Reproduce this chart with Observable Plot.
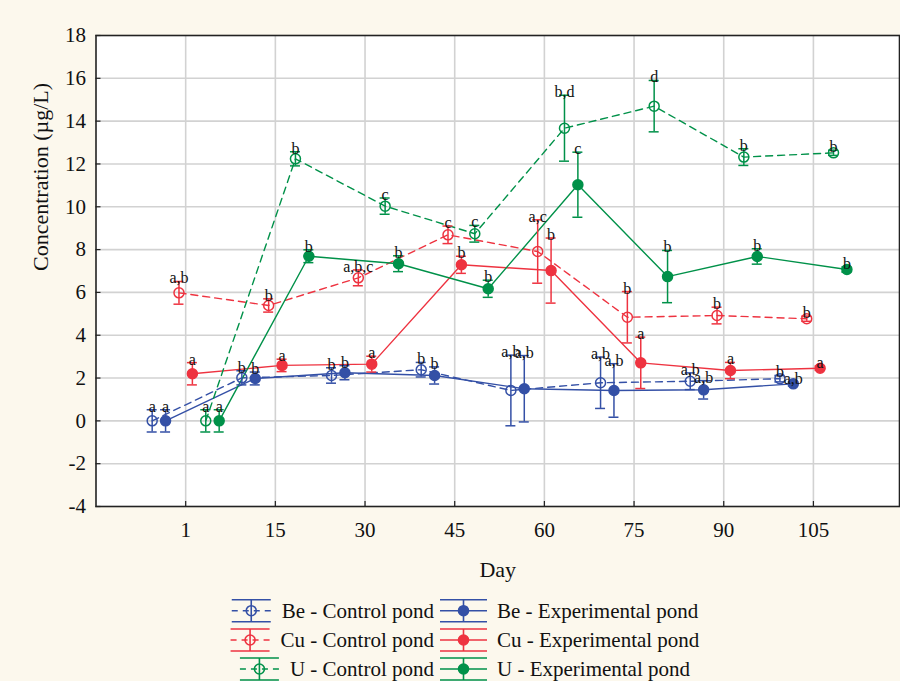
<!DOCTYPE html>
<html>
<head>
<meta charset="utf-8">
<script src="https://cdn.jsdelivr.net/npm/d3@7"></script>
<script src="https://cdn.jsdelivr.net/npm/@observablehq/plot@0.6"></script>
<style>
  html, body { margin: 0; padding: 0; background: #fcf8ed; }
  #chart svg { display: block; }
  #legend { display: block; }
</style>
</head>
<body>
<div id="chart"></div>
<svg id="legend" width="900" height="91"></svg>
<script>
// ---- data ----
const days = ["1", "15", "30", "45", "60", "75", "90", "105"];
const seriesNames = ["Be - Control pond", "Be - Experimental pond", "Cu - Control pond", "Cu - Experimental pond", "U - Control pond", "U - Experimental pond"];

const beControl    = [0, 2.01, 2.12, 2.39, 1.42, 1.78, 1.85, 1.97];
const beControlErr = [0.52, 0.33, 0.36, 0.34, 1.65, 1.2, 0.39, 0.15];
const beControlLab = ["a", "b", "b", "b", "a,b", "a,b", "a,b", "b"];

const beExp    = [0, 1.98, 2.25, 2.12, 1.5, 1.42, 1.45, 1.73];
const beExpErr = [0.52, 0.3, 0.33, 0.4, 1.55, 1.25, 0.43, 0.1];
const beExpLab = ["a", "b", "b", "b", "a,b", "a,b", "a,b", "a,b"];

const cuControl    = [5.98, 5.39, 6.68, 8.69, 7.91, 4.84, 4.92, 4.77];
const cuControlErr = [0.53, 0.31, 0.37, 0.41, 1.48, 1.2, 0.39, 0.12];
const cuControlLab = ["a,b", "b", "a,b,c", "c", "a,c", "b", "b", "b"];

const cuExp    = [2.2, 2.59, 2.65, 7.29, 7.02, 2.71, 2.35, 2.46];
const cuExpErr = [0.52, 0.29, 0.37, 0.4, 1.52, 1.2, 0.38, 0.1];
const cuExpLab = ["a", "a", "a", "b", "b", "a", "a", "a"];

const uControl    = [0, 12.24, 10.03, 8.74, 13.67, 14.7, 12.32, 12.52];
const uControlErr = [0.52, 0.33, 0.38, 0.39, 1.54, 1.2, 0.39, 0.12];
const uControlLab = ["a", "b", "c", "c", "b,d", "d", "b", "b"];

const uExp    = [0, 7.69, 7.34, 6.17, 11.03, 6.74, 7.68, 7.07];
const uExpErr = [0.52, 0.3, 0.37, 0.4, 1.52, 1.22, 0.36, 0.12];
const uExpLab = ["a", "b", "b", "b", "c", "b", "b", "b"];

const yTicks = [-4, -2, 0, 2, 4, 6, 8, 10, 12, 14, 16, 18];

// ---- styling ----
const BLUE = "#3450a6", RED = "#ee3340", GREEN = "#009149";
const FONT = "'Liberation Serif', 'Times New Roman', serif";
const seriesDefs = [
  {name: seriesNames[0], vals: beControl, err: beControlErr, lab: beControlLab, color: BLUE, control: true},
  {name: seriesNames[1], vals: beExp, err: beExpErr, lab: beExpLab, color: BLUE, control: false},
  {name: seriesNames[2], vals: cuControl, err: cuControlErr, lab: cuControlLab, color: RED, control: true},
  {name: seriesNames[3], vals: cuExp, err: cuExpErr, lab: cuExpLab, color: RED, control: false},
  {name: seriesNames[4], vals: uControl, err: uControlErr, lab: uControlLab, color: GREEN, control: true},
  {name: seriesNames[5], vals: uExp, err: uExpErr, lab: uExpLab, color: GREEN, control: false}
];

const W = 900, H = 590, mTop = 35, mBottom = 84, mLeft = 95.5, mRight = 1;
const xDomain = [-1, 7.96];
const pxPerUnit = (W - mLeft - mRight) / (xDomain[1] - xDomain[0]);
const seriesShift = 13.4 / pxPerUnit;   // dodge between series within a day group
const capHalf = 5 / pxPerUnit;
const plotH = H - mTop - mBottom, plotW = W - mLeft - mRight;

const rows = [];
seriesDefs.forEach((s, si) => {
  s.vals.forEach((v, g) => {
    rows.push({series: s.name, si, g, x: g + (si - 2.5) * seriesShift, y: v, e: s.err[g], lab: s.lab[g], color: s.color, control: s.control});
  });
});

const marks = [
  Plot.frame({fill: "white", stroke: "none"}),
  Plot.gridX(d3.range(days.length), {stroke: "#d2d2d2", strokeOpacity: 1, strokeWidth: 1.6}),
  Plot.gridY(yTicks.slice(1, -1), {stroke: "#d2d2d2", strokeOpacity: 1, strokeWidth: 1.6}),
  Plot.ruleX(d3.range(days.length), {insetTop: plotH - 5, stroke: "#222", strokeWidth: 1.2}),
  Plot.ruleY(yTicks, {insetRight: plotW - 5, stroke: "#222", strokeWidth: 1.2}),
  Plot.axisX(d3.range(days.length), {tickFormat: i => days[i], tickSize: 0, tickPadding: 16, fontSize: 21, label: null}),
  Plot.axisY(yTicks, {tickFormat: d => String(d), tickSize: 0, tickPadding: 10, fontSize: 21, label: null}),
  Plot.text(["Concentration (µg/L)"], {frameAnchor: "left", rotate: -90, dx: -55, fontSize: 22}),
  Plot.text(["Day"], {frameAnchor: "bottom", dy: 70, fontSize: 22})
];

seriesDefs.forEach((s) => {
  const d = rows.filter(r => r.series === s.name);
  marks.push(Plot.line(d, {x: "x", y: "y", stroke: s.color, strokeWidth: 1.4, strokeDasharray: s.control ? "7,5" : null}));
});
seriesDefs.forEach((s) => {
  const d = rows.filter(r => r.series === s.name);
  marks.push(Plot.ruleX(d, {x: "x", y1: r => r.y - r.e, y2: r => r.y + r.e, stroke: s.color, strokeWidth: 1.5}));
  marks.push(Plot.ruleY(d, {y: r => r.y + r.e, x1: r => r.x - capHalf, x2: r => r.x + capHalf, stroke: s.color, strokeWidth: 1.5}));
  marks.push(Plot.ruleY(d, {y: r => r.y - r.e, x1: r => r.x - capHalf, x2: r => r.x + capHalf, stroke: s.color, strokeWidth: 1.5}));
  marks.push(Plot.dot(d, {x: "x", y: "y", r: 5, fill: s.control ? "none" : s.color, stroke: s.color, strokeWidth: 1.5}));
});
marks.push(Plot.text(rows, {x: "x", y: r => r.y + r.e, text: "lab", lineAnchor: "bottom", dy: 2, fontSize: 16, fill: "#111"}));
marks.push(Plot.frame({stroke: "#222", strokeWidth: 1.6}));

const chart = Plot.plot({
  width: W, height: H,
  marginTop: mTop, marginBottom: mBottom, marginLeft: mLeft, marginRight: mRight,
  x: {domain: xDomain, axis: null},
  y: {domain: [yTicks[0], yTicks[yTicks.length - 1]], axis: null},
  style: {fontFamily: FONT, fontSize: "21px", background: "transparent", color: "#111", overflow: "visible"},
  marks
});
document.getElementById("chart").appendChild(chart);

// ---- legend ----
const leg = d3.select("#legend").style("font-family", FONT);
const rowY = [20.7, 50, 79];
function swatch(x0, x1, cy, s) {
  const g = leg.append("g").attr("stroke", s.color).attr("stroke-width", 1.6);
  const cx = (x0 + x1) / 2;
  g.append("line").attr("x1", x0).attr("x2", x1).attr("y1", cy - 11).attr("y2", cy - 11);
  g.append("line").attr("x1", x0).attr("x2", x1).attr("y1", cy + 11).attr("y2", cy + 11);
  g.append("line").attr("x1", cx).attr("x2", cx).attr("y1", cy - 11).attr("y2", cy + 11);
  g.append("line").attr("x1", x0).attr("x2", x1).attr("y1", cy).attr("y2", cy).attr("stroke-width", 1.4)
    .attr("stroke-dasharray", s.control ? "6,5" : null);
  g.append("circle").attr("cx", cx).attr("cy", cy).attr("r", 5).attr("fill", s.control ? "none" : s.color);
}
[0, 1, 2].forEach(i => {
  const sc = seriesDefs[i * 2], se = seriesDefs[i * 2 + 1];
  const t1 = leg.append("text").attr("x", 434).attr("y", rowY[i]).attr("text-anchor", "end")
    .attr("dominant-baseline", "central").attr("font-size", 21).attr("fill", "#111").text(sc.name);
  const w = t1.node().getComputedTextLength();
  const start = 434 - w;
  swatch(start - 50, start - 11, rowY[i], sc);
  swatch(440, 487, rowY[i], se);
  leg.append("text").attr("x", 497).attr("y", rowY[i]).attr("dominant-baseline", "central")
    .attr("font-size", 21).attr("fill", "#111").text(se.name);
});
</script>
</body>
</html>
